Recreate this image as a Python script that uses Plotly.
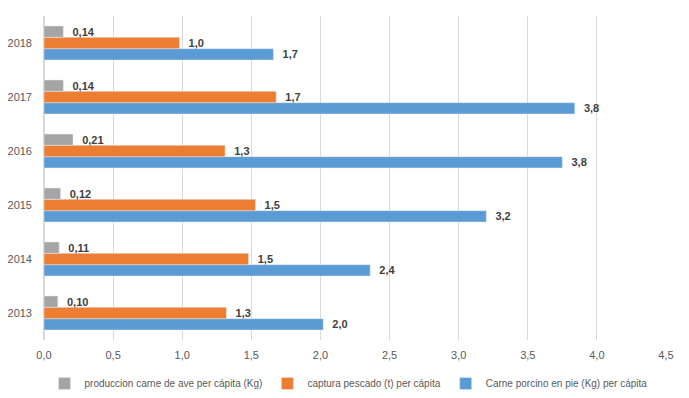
import plotly.graph_objects as go

years = ["2013", "2014", "2015", "2016", "2017", "2018"]
ave = [0.10, 0.11, 0.12, 0.21, 0.14, 0.14]
pescado = [1.32, 1.48, 1.53, 1.31, 1.68, 0.98]
porcino = [2.02, 2.36, 3.20, 3.75, 3.84, 1.66]

names = ["produccion carne de ave per cápita (Kg)",
         "captura pescado (t) per cápita",
         "Carne porcino en pie (Kg) per cápita"]
colors = ["#a5a5a5", "#ed7d31", "#5b9bd5"]

fig = go.Figure()
lab_font = dict(family="Liberation Sans, Arial", size=11, color="#404040")
common = dict(orientation="h", textposition="outside", textfont=lab_font,
              cliponaxis=False, constraintext="none")
fig.add_trace(go.Bar(y=years, x=porcino, name=names[2], marker_color=colors[2],
                     texttemplate="  <b>%{x:.1f}</b>", legendrank=3, **common))
fig.add_trace(go.Bar(y=years, x=pescado, name=names[1], marker_color=colors[1],
                     texttemplate="  <b>%{x:.1f}</b>", legendrank=2, **common))
fig.add_trace(go.Bar(y=years, x=ave, name=names[0], marker_color=colors[0],
                     texttemplate="  <b>%{x:.2f}</b>", legendrank=1, **common))

# page body has an 8px default margin, so the figure is 681x390
fig.update_layout(
    width=681, height=390,
    barmode="group", bargap=0.37, bargroupgap=0,
    separators=",.",
    plot_bgcolor="white", paper_bgcolor="white",
    margin=dict(l=36, r=23, t=8, b=58, autoexpand=False),
    font=dict(family="Liberation Sans, Arial", size=11, color="#595959"),
    showlegend=True,
    legend=dict(orientation="h", xref="container", yref="container",
                x=0.5, xanchor="center", y=0.0, yanchor="bottom",
                font=dict(size=10, color="#595959"), itemwidth=30,
                tracegroupgap=0),
)
fig.update_xaxes(range=[0, 4.5], dtick=0.5, tickformat=".1f", automargin=False,
                 showgrid=True, gridcolor="#d9d9d9", gridwidth=1,
                 zeroline=True, zerolinecolor="#d9d9d9", showline=False,
                 ticks="", ticklabelstandoff=7,
                 tickfont=dict(size=11, color="#595959"))
fig.update_yaxes(type="category", showgrid=False, showline=False, ticks="",
                 automargin=False, ticklabelstandoff=11,
                 tickfont=dict(size=11, color="#595959"))

fig.write_html("out.html")
